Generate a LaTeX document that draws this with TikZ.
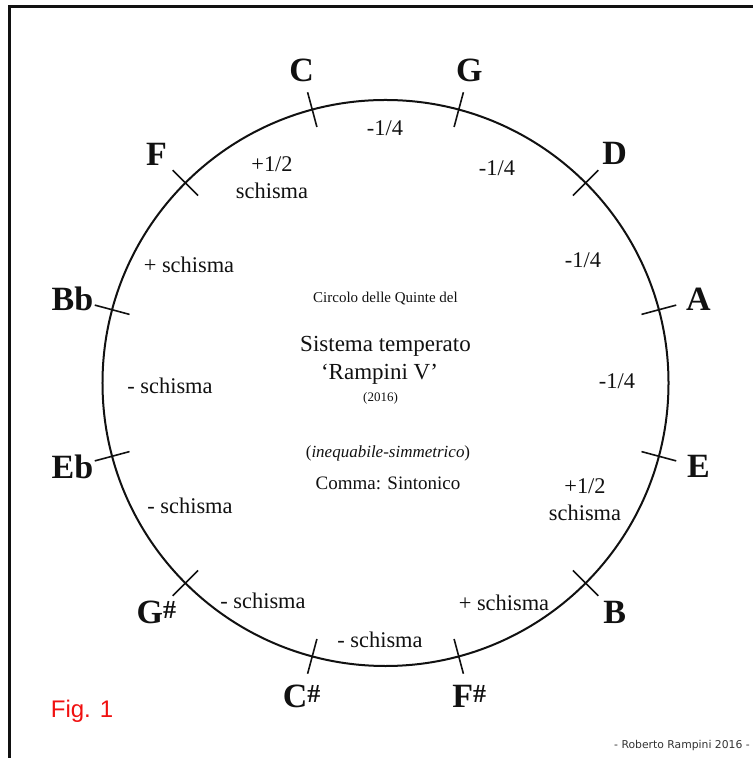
\documentclass[tikz,border=0pt]{standalone}
\usepackage{fontspec}
\setmainfont{Liberation Serif}
\newfontfamily\figfont{Liberation Sans}
\newfontfamily\signfont{DejaVu Sans}
\usetikzlibrary{positioning}
\definecolor{ink}{HTML}{111111}
\definecolor{figred}{HTML}{F01010}
\definecolor{signgray}{HTML}{333333}
\newcommand{\sh}{\raisebox{2.5pt}{\fontsize{13}{13}\selectfont\#}}
\tikzset{
  notelabel/.style={font=\fontsize{17}{17}\selectfont\bfseries,text=ink,inner sep=0pt},
  steplabel/.style={font=\fontsize{11.2}{13.5}\selectfont,text=ink,align=center,inner sep=0pt},
  titletext/.style={text=ink,align=center,inner sep=0pt},
  ring/.style={circle,draw=ink,line width=1pt,minimum size=283pt,inner sep=0pt},
  tickmark/.style={draw=ink,line width=0.8pt},
  frame/.style={draw=ink,line width=1.3pt}
}

\begin{document}
\begin{tikzpicture}[x=0.5pt,y=0.5pt]
  \useasboundingbox (-385.5,-375) rectangle (366.5,383);
  \draw[frame] (-376,-380) -- (-376,376.5) -- (372,376.5);

  \node[ring] (circ) at (0,0) {};
  \foreach \a in {15,45,...,345}
    \draw[tickmark] (\a:265) -- (\a:301);

  \foreach \n/\a/\t in {c/105/C, g/75/G, d/45/D, a/15/A, e/-15/E, b/-45/B,
                        fs/-75/F\sh, cs/-105/C\sh, gs/-135/G\sh, eb/-165/Eb, bb/165/Bb, f/135/F}
    \node[notelabel] (\n) at (\a:324) {\t};

  \node[steplabel] (cg) at (-0.5,255) {-1/4};
  \node[steplabel] (gd) at (111.5,215) {-1/4};
  \node[steplabel] (da) at (197.5,123) {-1/4};
  \node[steplabel] (ae) at (231.5,2) {-1/4};
  \node[steplabel] (eb1) at (199.5,-117) {+1/2\\schisma};
  \node[steplabel] (bfs) at (118.5,-220) {+ schisma};
  \node[steplabel] (fscs) at (-5.5,-257) {- schisma};
  \node[steplabel] (csgs) at (-122.5,-218) {- schisma};
  \node[steplabel] (gseb) at (-195.5,-123) {- schisma};
  \node[steplabel] (ebbb) at (-215.5,-3) {- schisma};
  \node[steplabel] (bbf) at (-196.5,118) {+ schisma};
  \node[steplabel] (fc) at (-113.5,205) {+1/2\\schisma};

  \node[titletext,font=\fontsize{7.5}{8}\selectfont] (t1) at (0,84) {Circolo delle Quinte del};
  \node[titletext,font=\fontsize{11.5}{12}\selectfont] (t2) at (0,37) {Sistema temperato};
  \node[titletext,font=\fontsize{11.5}{12}\selectfont] (t3) at (-6,9) {`Rampini V'};
  \node[titletext,font=\fontsize{6.5}{7}\selectfont] (t4) at (-5,-15) {(2016)};
  \node[titletext,font=\fontsize{8.5}{9}\selectfont] (t5) at (2.5,-70) {(\textit{inequabile-simmetrico})};
  \node[titletext,font=\fontsize{9.5}{10}\selectfont] (t6) at (2.5,-100) {Comma: Sintonico};

  \node[text=figred,font=\figfont\fontsize{12}{12}\selectfont,inner sep=0pt] (fig) at (-303.5,-328) {Fig. 1};
  \node[text=signgray,font=\signfont\fontsize{5.4}{6}\selectfont,inner sep=0pt] (sign) at (296.5,-363) {- Roberto Rampini 2016 -};
\end{tikzpicture}
\end{document}
